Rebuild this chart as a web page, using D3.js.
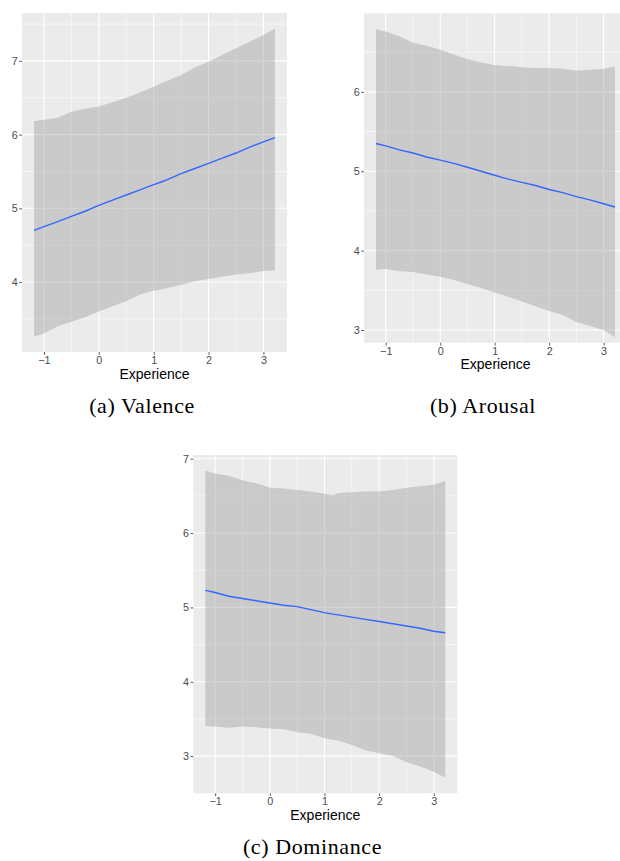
<!DOCTYPE html>
<html>
<head>
<meta charset="utf-8">
<script src="https://cdn.jsdelivr.net/npm/d3@7"></script>
<style>
  body { margin: 0; background: #fff; }
  svg { display: block; }
</style>
</head>
<body>
<div id="chart"></div>
<script>
// predicted rating vs. experience, with confidence band
let xs = [-1.18, -1.0, -0.75, -0.5, -0.25, 0, 0.25, 0.5, 0.75, 1.0, 1.15, 1.25, 1.5, 1.75, 2.0, 2.25, 2.5, 2.75, 3.0, 3.21];

let valenceFit   = [4.70, 4.75, 4.82, 4.89, 4.96, 5.04, 5.11, 5.18, 5.25, 5.32, 5.36, 5.39, 5.47, 5.54, 5.61, 5.68, 5.75, 5.83, 5.90, 5.96];
let valenceLower = [3.26, 3.30, 3.40, 3.46, 3.52, 3.60, 3.67, 3.74, 3.83, 3.88, 3.90, 3.92, 3.96, 4.01, 4.04, 4.07, 4.10, 4.12, 4.15, 4.16];
let valenceUpper = [6.18, 6.20, 6.23, 6.31, 6.35, 6.38, 6.44, 6.50, 6.57, 6.65, 6.70, 6.73, 6.81, 6.91, 6.99, 7.08, 7.17, 7.26, 7.35, 7.44];

let arousalFit   = [5.35, 5.32, 5.27, 5.23, 5.18, 5.14, 5.10, 5.05, 5.00, 4.95, 4.92, 4.90, 4.86, 4.82, 4.77, 4.73, 4.68, 4.64, 4.59, 4.55];
let arousalLower = [3.76, 3.77, 3.74, 3.73, 3.70, 3.67, 3.63, 3.58, 3.53, 3.47, 3.44, 3.42, 3.36, 3.30, 3.24, 3.19, 3.10, 3.05, 3.00, 2.91];
let arousalUpper = [6.79, 6.76, 6.70, 6.62, 6.58, 6.53, 6.47, 6.41, 6.37, 6.34, 6.33, 6.33, 6.31, 6.30, 6.30, 6.29, 6.27, 6.28, 6.29, 6.32];

let dominanceFit   = [5.23, 5.20, 5.15, 5.12, 5.09, 5.06, 5.03, 5.01, 4.97, 4.93, 4.91, 4.90, 4.87, 4.84, 4.81, 4.78, 4.75, 4.72, 4.68, 4.66];
let dominanceLower = [3.41, 3.40, 3.38, 3.40, 3.39, 3.37, 3.36, 3.32, 3.30, 3.24, 3.22, 3.21, 3.15, 3.08, 3.04, 3.00, 2.92, 2.86, 2.79, 2.71];
let dominanceUpper = [6.84, 6.80, 6.77, 6.71, 6.67, 6.61, 6.60, 6.58, 6.56, 6.53, 6.51, 6.54, 6.55, 6.56, 6.56, 6.58, 6.61, 6.63, 6.65, 6.70];

let xTicks = [-1, 0, 1, 2, 3];
let xDomain = [-1.4, 3.43];
let xTitle = "Experience";

let panels = [
  { caption: "(a) Valence", fit: valenceFit, lower: valenceLower, upper: valenceUpper,
    yDomain: [3.05, 7.65], yTicks: [4, 5, 6, 7],
    left: 22, top: 13, width: 265, height: 339, capX: 142, capY: 413 },
  { caption: "(b) Arousal", fit: arousalFit, lower: arousalLower, upper: arousalUpper,
    yDomain: [2.84, 6.99], yTicks: [3, 4, 5, 6],
    left: 364, top: 13.3, width: 263, height: 329.4, capX: 483, capY: 413 },
  { caption: "(c) Dominance", fit: dominanceFit, lower: dominanceLower, upper: dominanceUpper,
    yDomain: [2.50, 7.05], yTicks: [3, 4, 5, 6, 7],
    left: 193.3, top: 455, width: 264, height: 338.3, capX: 312.5, capY: 854 }
];

let svg = d3.select("#chart").append("svg")
  .attr("width", 620)
  .attr("height", 861);

let fmt = d3.format("d");

// minor breaks sit half way between the majors
function minors(ticks, domain) {
  let step = ticks[1] - ticks[0];
  let out = [];
  for (let v = ticks[0] - step / 2; v <= ticks[ticks.length - 1] + step; v += step) {
    if (v > domain[0] && v < domain[1]) out.push(v);
  }
  return out;
}

panels.forEach(p => {
  let x = d3.scaleLinear().domain(xDomain).range([0, p.width]);
  let y = d3.scaleLinear().domain(p.yDomain).range([p.height, 0]);

  let g = svg.append("g").attr("transform", `translate(${p.left},${p.top})`);

  g.append("rect")
    .attr("width", p.width)
    .attr("height", p.height)
    .attr("fill", "#ebebeb");

  // grid
  g.selectAll(".xminor").data(minors(xTicks, xDomain)).enter().append("line")
    .attr("x1", d => x(d)).attr("x2", d => x(d))
    .attr("y1", 0).attr("y2", p.height)
    .attr("stroke", "#fff").attr("stroke-width", 0.55);
  g.selectAll(".yminor").data(minors(p.yTicks, p.yDomain)).enter().append("line")
    .attr("x1", 0).attr("x2", p.width)
    .attr("y1", d => y(d)).attr("y2", d => y(d))
    .attr("stroke", "#fff").attr("stroke-width", 0.55);
  g.selectAll(".xmajor").data(xTicks).enter().append("line")
    .attr("x1", d => x(d)).attr("x2", d => x(d))
    .attr("y1", 0).attr("y2", p.height)
    .attr("stroke", "#fff").attr("stroke-width", 1.1);
  g.selectAll(".ymajor").data(p.yTicks).enter().append("line")
    .attr("x1", 0).attr("x2", p.width)
    .attr("y1", d => y(d)).attr("y2", d => y(d))
    .attr("stroke", "#fff").attr("stroke-width", 1.1);

  let rows = xs.map((v, i) => ({ x: v, fit: p.fit[i], lo: p.lower[i], hi: p.upper[i] }));

  let band = d3.area()
    .x(d => x(d.x))
    .y0(d => y(d.lo))
    .y1(d => y(d.hi));

  g.append("path")
    .datum(rows)
    .attr("d", band)
    .attr("fill", "#999999")
    .attr("fill-opacity", 0.4);

  let line = d3.line()
    .x(d => x(d.x))
    .y(d => y(d.fit));

  g.append("path")
    .datum(rows)
    .attr("d", line)
    .attr("fill", "none")
    .attr("stroke", "#3366ff")
    .attr("stroke-width", 1.4);

  // axes
  let xAxis = g.append("g")
    .attr("transform", `translate(0,${p.height})`)
    .call(d3.axisBottom(x).tickValues(xTicks).tickFormat(fmt).tickSize(2.8).tickPadding(1.5));
  let yAxis = g.append("g")
    .call(d3.axisLeft(y).tickValues(p.yTicks).tickFormat(fmt).tickSize(2.8).tickPadding(1.5));

  [xAxis, yAxis].forEach(a => {
    a.select(".domain").remove();
    a.selectAll(".tick line").attr("stroke", "#333").attr("stroke-width", 0.8);
    a.selectAll(".tick text")
      .attr("fill", "#4d4d4d")
      .style("font-family", "'Liberation Sans', Arial, sans-serif")
      .style("font-size", "10.8px");
  });

  g.append("text")
    .attr("x", p.width / 2)
    .attr("y", p.height + 26.5)
    .attr("text-anchor", "middle")
    .style("font-family", "'Liberation Sans', Arial, sans-serif")
    .style("font-size", "14px")
    .attr("fill", "#000")
    .text(xTitle);

  svg.append("text")
    .attr("x", p.capX)
    .attr("y", p.capY)
    .attr("text-anchor", "middle")
    .style("font-family", "'Liberation Serif', 'Times New Roman', serif")
    .style("font-size", "22px")
    .style("letter-spacing", "0.6px")
    .attr("fill", "#000")
    .text(p.caption);
});
</script>
</body>
</html>
